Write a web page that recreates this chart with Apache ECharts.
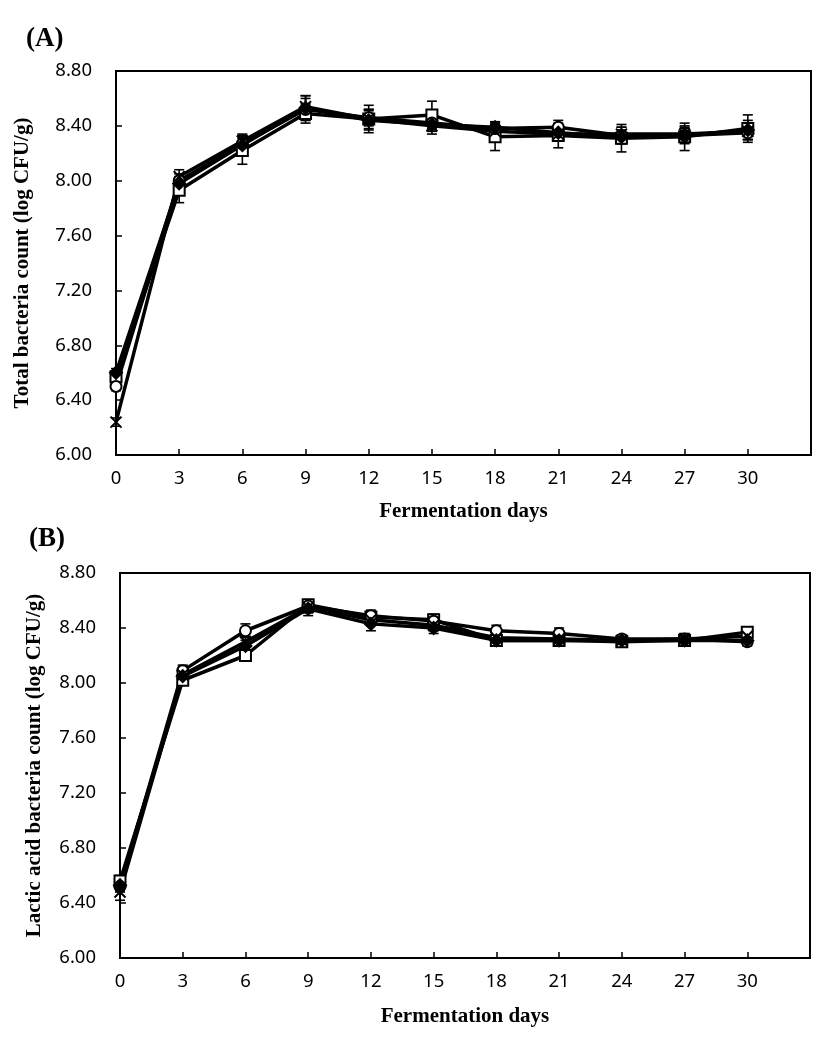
<!DOCTYPE html>
<html>
<head>
<meta charset="utf-8">
<script src="https://cdn.jsdelivr.net/npm/echarts@6/dist/echarts.min.js"></script>
<style>html,body{margin:0;padding:0;background:#fff;}#c{width:827px;height:1046px;}</style>
</head>
<body>
<div id="c"></div>
<script>
// ---- data ----
const days = [0, 3, 6, 9, 12, 15, 18, 21, 24, 27, 30];
const yTicks = [6.0, 6.4, 6.8, 7.2, 7.6, 8.0, 8.4, 8.8];

// Panel A: total bacteria count
const A_square  = [6.57, 7.93, 8.22, 8.49, 8.45, 8.48, 8.32, 8.33, 8.31, 8.32, 8.38];
const A_circle  = [6.50, 8.00, 8.27, 8.52, 8.46, 8.42, 8.38, 8.39, 8.33, 8.33, 8.35];
const A_cross   = [6.24, 8.03, 8.29, 8.54, 8.45, 8.40, 8.36, 8.34, 8.34, 8.34, 8.36];
const A_diamond = [6.60, 7.98, 8.26, 8.53, 8.44, 8.41, 8.39, 8.35, 8.32, 8.33, 8.37];
const A_square_err  = [0.03, 0.09, 0.10, 0.07, 0.10, 0.10, 0.10, 0.09, 0.10, 0.10, 0.10];
const A_circle_err  = [0.03, 0.05, 0.06, 0.08, 0.06, 0.05, 0.05, 0.05, 0.06, 0.06, 0.05];
const A_cross_err   = [0.03, 0.05, 0.05, 0.08, 0.07, 0.06, 0.05, 0.05, 0.05, 0.06, 0.06];
const A_diamond_err = [0.03, 0.05, 0.05, 0.09, 0.07, 0.05, 0.04, 0.05, 0.05, 0.05, 0.07];

// Panel B: lactic acid bacteria count
const B_square  = [6.56, 8.02, 8.20, 8.57, 8.48, 8.46, 8.31, 8.31, 8.30, 8.31, 8.37];
const B_circle  = [6.52, 8.09, 8.38, 8.56, 8.49, 8.45, 8.38, 8.36, 8.32, 8.32, 8.30];
const B_cross   = [6.48, 8.06, 8.30, 8.55, 8.46, 8.42, 8.33, 8.32, 8.31, 8.32, 8.34];
const B_diamond = [6.53, 8.05, 8.27, 8.54, 8.43, 8.40, 8.31, 8.31, 8.31, 8.31, 8.31];
const B_square_err  = [0.04, 0.03, 0.03, 0.03, 0.03, 0.04, 0.03, 0.03, 0.03, 0.03, 0.03];
const B_circle_err  = [0.04, 0.04, 0.05, 0.04, 0.04, 0.04, 0.04, 0.04, 0.03, 0.03, 0.03];
const B_cross_err   = [0.06, 0.04, 0.04, 0.04, 0.04, 0.04, 0.04, 0.04, 0.03, 0.04, 0.04];
const B_diamond_err = [0.04, 0.03, 0.04, 0.05, 0.05, 0.04, 0.03, 0.03, 0.03, 0.03, 0.03];

// ---- chart ----
const crossPath = 'path://M0,0L10,10M10,0L0,10';
const markers = [
  {symbol: 'rect', fill: '#fff', size: 11},
  {symbol: 'circle', fill: '#fff', size: 11},
  {symbol: crossPath, fill: 'none', size: 11},
  {symbol: 'diamond', fill: '#000', size: 12}
];

function lineSeries(vals, m, g) {
  return {
    type: 'line', xAxisIndex: g, yAxisIndex: g, z: 3,
    data: days.map((d, i) => [d, vals[i]]),
    symbol: m.symbol, symbolSize: m.size, showSymbol: true,
    lineStyle: {color: '#000', width: 3.5},
    itemStyle: {color: m.fill, borderColor: '#000', borderWidth: 2},
    animation: false
  };
}
function errSeries(vals, errs, g) {
  return {
    type: 'custom', xAxisIndex: g, yAxisIndex: g, z: 2, animation: false,
    data: days.map((d, i) => [d, vals[i] - errs[i], vals[i] + errs[i]]),
    renderItem: function (params, api) {
      const lo = api.coord([api.value(0), api.value(1)]);
      const hi = api.coord([api.value(0), api.value(2)]);
      const w = 5;
      const st = {stroke: '#000', lineWidth: 1.6};
      return {type: 'group', children: [
        {type: 'line', shape: {x1: lo[0], y1: lo[1], x2: hi[0], y2: hi[1]}, style: st},
        {type: 'line', shape: {x1: lo[0] - w, y1: lo[1], x2: lo[0] + w, y2: lo[1]}, style: st},
        {type: 'line', shape: {x1: hi[0] - w, y1: hi[1], x2: hi[0] + w, y2: hi[1]}, style: st}
      ]};
    }
  };
}

const seriesA = [A_square, A_circle, A_cross, A_diamond];
const errA = [A_square_err, A_circle_err, A_cross_err, A_diamond_err];
const seriesB = [B_square, B_circle, B_cross, B_diamond];
const errB = [B_square_err, B_circle_err, B_cross_err, B_diamond_err];

const series = [];
seriesA.forEach((v, i) => series.push(errSeries(v, errA[i], 0)));
seriesB.forEach((v, i) => series.push(errSeries(v, errB[i], 1)));
seriesA.forEach((v, i) => series.push(lineSeries(v, markers[i], 0)));
seriesB.forEach((v, i) => series.push(lineSeries(v, markers[i], 1)));

const tickFont = {fontFamily: 'Noto Sans', fontSize: 18.5, color: '#000'};
const nameFont = {fontFamily: 'Liberation Serif', fontWeight: 'bold', fontSize: 21, color: '#000'};

function xAxis(g, gap) {
  return {
    type: 'value', gridIndex: g, min: 0, max: 33, interval: 3,
    name: 'Fermentation days', nameLocation: 'middle', nameGap: gap, nameTextStyle: nameFont,
    axisLine: {show: true, lineStyle: {color: '#000', width: 2}},
    axisTick: {show: true, inside: true, length: 6, lineStyle: {color: '#000', width: 1.5}},
    axisLabel: Object.assign({margin: 14, formatter: v => (days.indexOf(v) >= 0 ? String(v) : '')}, tickFont),
    splitLine: {show: false}
  };
}
function yAxis(g, name, gap) {
  return {
    type: 'value', gridIndex: g, min: yTicks[0], max: yTicks[yTicks.length - 1], interval: 0.4,
    name: name, nameLocation: 'middle', nameGap: gap, nameTextStyle: nameFont,
    axisLine: {show: true, lineStyle: {color: '#000', width: 2}},
    axisTick: {show: true, inside: true, length: 6, lineStyle: {color: '#000', width: 1.5}},
    axisLabel: Object.assign({margin: 24, formatter: v => v.toFixed(2)}, tickFont),
    splitLine: {show: false}
  };
}

const chart = echarts.init(document.getElementById('c'), null, {renderer: 'canvas'});
chart.setOption({
  backgroundColor: '#fff',
  animation: false,
  title: [
    {text: '(A)', left: 21, top: 21, textStyle: {fontFamily: 'Liberation Serif', fontWeight: 'bold', fontSize: 27, color: '#000'}},
    {text: '(B)', left: 24, top: 521, textStyle: {fontFamily: 'Liberation Serif', fontWeight: 'bold', fontSize: 27, color: '#000'}}
  ],
  grid: [
    {left: 116, top: 71, width: 695, height: 384, show: true, borderColor: '#000', borderWidth: 2, backgroundColor: 'transparent'},
    {left: 120, top: 573, width: 690, height: 385, show: true, borderColor: '#000', borderWidth: 2, backgroundColor: 'transparent'}
  ],
  xAxis: [xAxis(0, 46), xAxis(1, 48)],
  yAxis: [yAxis(0, 'Total bacteria count (log CFU/g)', 83), yAxis(1, 'Lactic acid bacteria count (log CFU/g)', 75)],
  series: series
});
</script>
</body>
</html>
